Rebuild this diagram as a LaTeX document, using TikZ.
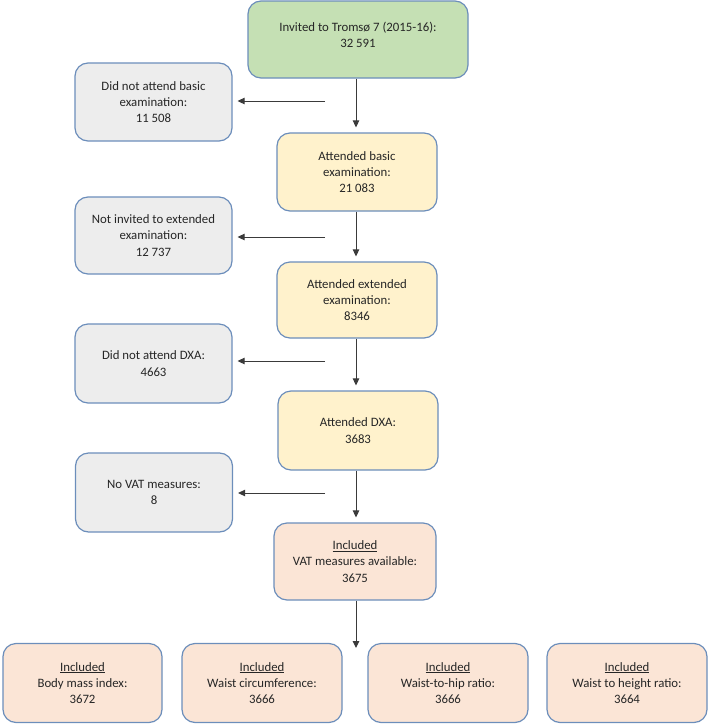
\documentclass[tikz,border=0pt]{standalone}
\usepackage{fontspec}
\setmainfont{Carlito}
\usetikzlibrary{arrows.meta}
\definecolor{bordc}{HTML}{6C8EBB}
\definecolor{greenf}{HTML}{C5E0B4}
\definecolor{greyf}{HTML}{EDEDED}
\definecolor{yellowf}{HTML}{FFF2CC}
\definecolor{pinkf}{HTML}{FBE5D6}
\definecolor{arrc}{HTML}{3A3A3A}
\begin{document}
\begin{tikzpicture}[x=1pt,y=-1pt,
  box/.style={draw=bordc,line width=1.2pt,rounded corners=13pt,inner sep=0pt,align=center,
    font=\fontsize{12.8}{16.3}\selectfont,text=black!85},
  greenbox/.style={box,fill=greenf},
  greybox/.style={box,fill=greyf,minimum width=157pt},
  yellowbox/.style={box,fill=yellowf,minimum width=160pt},
  pinkbox/.style={box,fill=pinkf,minimum width=160pt,minimum height=79pt},
  arr/.style={draw=arrc,line width=1pt,-{Triangle[length=7pt,width=6.5pt]},shorten >=5pt}]
\useasboundingbox (0,0) rectangle (709,726);
\node[greenbox,minimum width=220pt,minimum height=77pt,text depth=9pt] (green) at (358,39.5) {Invited to Tromsø 7 (2015-16):\\32 591};
\node[greybox,minimum height=78pt] (grey1) at (153.5,102) {Did not attend basic\\examination:\\11 508};
\node[yellowbox,minimum height=78pt] (yel1) at (357,172) {Attended basic\\examination:\\21 083};
\node[greybox,minimum height=77pt] (grey2) at (153.5,235.5) {Not invited to extended\\examination:\\12 737};
\node[yellowbox,minimum height=76pt] (yel2) at (357,300) {Attended extended\\examination:\\8346};
\node[greybox,minimum height=79pt] (grey3) at (153.5,363.5) {Did not attend DXA:\\4663};
\node[yellowbox,minimum height=79pt] (yel3) at (358,430.5) {Attended DXA:\\3683};
\node[greybox,minimum height=79pt] (grey4) at (154,492.5) {No VAT measures:\\8};
\node[pinkbox,minimum width=162pt,minimum height=77pt] (incl) at (355,561.5) {\underline{Included}\\VAT measures available:\\3675};
\node[pinkbox,minimum width=159pt] (b1) at (82.5,683) {\underline{Included}\\Body mass index:\\3672};
\node[pinkbox] (b2) at (262,683) {\underline{Included}\\Waist circumference:\\3666};
\node[pinkbox] (b3) at (448,683) {\underline{Included}\\Waist-to-hip ratio:\\3666};
\node[pinkbox] (b4) at (627,683) {\underline{Included}\\Waist to height ratio:\\3664};
\coordinate (ax) at (356,0);
\coordinate (h1) at (325,101);
\coordinate (h2) at (325,237);
\coordinate (h3) at (325,361);
\coordinate (h4) at (325,493);
\coordinate (bend) at (356,653);
\draw[arr] (green.south -| ax) -- (yel1.north -| ax);
\draw[arr] (yel1.south -| ax) -- (yel2.north -| ax);
\draw[arr] (yel2.south -| ax) -- (yel3.north -| ax);
\draw[arr] (yel3.south -| ax) -- (incl.north -| ax);
\draw[arr] (incl.south -| ax) -- (bend);
\draw[arr] (h1) -- (h1 -| grey1.east);
\draw[arr] (h2) -- (h2 -| grey2.east);
\draw[arr] (h3) -- (h3 -| grey3.east);
\draw[arr] (h4) -- (h4 -| grey4.east);
\end{tikzpicture}
\end{document}
